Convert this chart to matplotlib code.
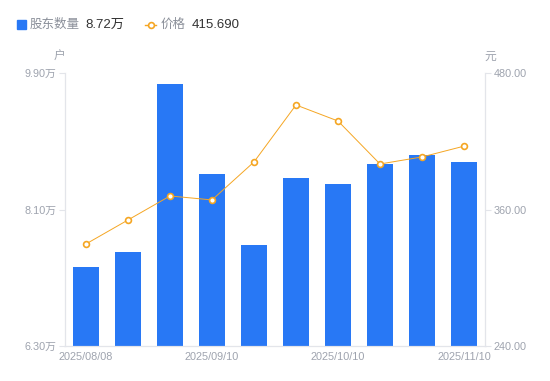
import matplotlib
matplotlib.use('Agg')
import matplotlib.pyplot as plt
from matplotlib.lines import Line2D
from matplotlib.patches import Rectangle

plt.rcParams['font.family'] = ['Liberation Sans', 'Noto Sans CJK SC', 'DejaVu Sans']

dates = ['2025/08/08', '2025/08/20', '2025/08/29', '2025/09/10', '2025/09/19',
         '2025/09/30', '2025/10/10', '2025/10/20', '2025/10/31', '2025/11/10']
holders = [7.34, 7.54, 9.76, 8.57, 7.63, 8.52, 8.44, 8.70, 8.82, 8.72]  # 万户
price = [329.7, 350.8, 371.9, 368.4, 401.8, 451.9, 437.8, 400.0, 406.2, 415.69]

left_ticks = [6.30, 8.10, 9.90]
right_ticks = [240.0, 360.0, 480.0]

BLUE = '#2878f5'
ORANGE = '#f5a623'
GRAY = '#9ea3ae'
AXIS = '#e3e5ea'

fig = plt.figure(figsize=(5.5, 3.81), dpi=100)
ax = fig.add_axes([65 / 550, 1 - 346 / 381, 420 / 550, 273 / 381])
ax2 = ax.twinx()

x = list(range(len(dates)))
ax.bar(x, holders, width=0.6, color=BLUE, zorder=2)
ax.set_xlim(-0.5, len(dates) - 0.5)
ax.set_ylim(left_ticks[0], left_ticks[-1])
ax.set_yticks(left_ticks)
ax.set_yticklabels(['%.2f万' % v for v in left_ticks])
ax.set_xticks(x[::3])
ax.set_xticklabels(dates[::3])

ax2.plot(x, price, color=ORANGE, lw=0.7, marker='o', ms=4.2,
         mfc='white', mec=ORANGE, mew=1.2, zorder=3)
ax2.set_ylim(right_ticks[0], right_ticks[-1])
ax2.set_yticks(right_ticks)
ax2.set_yticklabels(['%.2f' % v for v in right_ticks])

for a in (ax, ax2):
    for s in a.spines.values():
        s.set_color(AXIS)
    a.spines['top'].set_visible(False)
    a.tick_params(colors=GRAY, labelsize=7.8, length=4, width=0.8)
    a.tick_params(axis='x', length=0, pad=4)
    a.tick_params(axis='y', color=AXIS, labelcolor=GRAY, pad=2)

fig.text(60 / 550, 1 - 57 / 381, '户', color=GRAY, fontsize=8.5, ha='center', va='center')
fig.text(490 / 550, 1 - 57 / 381, '元', color=GRAY, fontsize=8.5, ha='center', va='center')

# legend
fig.patches.append(Rectangle((17 / 550, 1 - 29 / 381), 9 / 550, 9 / 381,
                             transform=fig.transFigure, color=BLUE))
fig.text(30 / 550, 1 - 24.5 / 381, '股东数量', color='#8a8f99', fontsize=9, va='center')
fig.text(85 / 550, 1 - 24.5 / 381, '%.2f万' % holders[-1], color='#333333', fontsize=9.5, va='center')
fig.lines.append(Line2D([145 / 550, 156 / 550], [1 - 24.5 / 381] * 2, transform=fig.transFigure,
                        color=ORANGE, lw=1))
fig.lines.append(Line2D([150.5 / 550], [1 - 24.5 / 381], transform=fig.transFigure,
                        color=ORANGE, marker='o', ms=4.2, mfc='white', mec=ORANGE, mew=1.2))
fig.text(161 / 550, 1 - 24.5 / 381, '价格', color='#8a8f99', fontsize=9, va='center')
fig.text(192 / 550, 1 - 24.5 / 381, '%.3f' % price[-1], color='#333333', fontsize=9.5, va='center')

fig.savefig('out.png', dpi=100)
